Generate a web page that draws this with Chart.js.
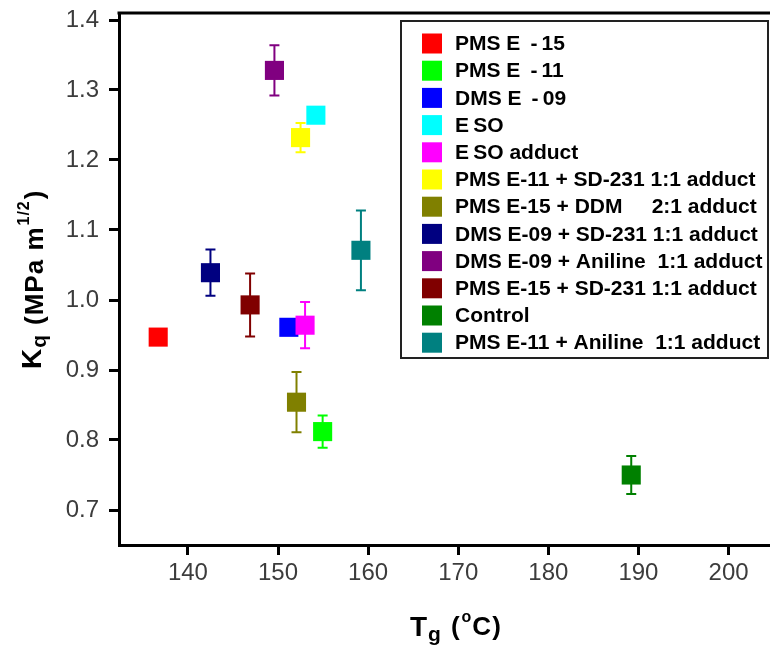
<!DOCTYPE html>
<html>
<head>
<meta charset="utf-8">
<script src="https://cdn.jsdelivr.net/npm/chart.js@4.4.1/dist/chart.umd.min.js"></script>
<style>
  body { margin: 0; background: #fff; }
  canvas { display: block; }
</style>
</head>
<body>
<canvas id="chart" width="770" height="650"></canvas>
<script>
// data
const seriesLabels = [
  'PMS E \u2009-\u200915',
  'PMS E \u2009-\u200911',
  'DMS E \u2009-\u200909',
  'E\u2009SO',
  'E\u2009SO adduct',
  'PMS E-11 + SD-231 1:1 adduct',
  'PMS E-15 + DDM     2:1 adduct',
  'DMS E-09 + SD-231 1:1 adduct',
  'DMS E-09 + Aniline  1:1 adduct',
  'PMS E-15 + SD-231 1:1 adduct',
  'Control',
  'PMS E-11 + Aniline  1:1 adduct'
];
const seriesColors = ['#ff0000','#00ff00','#0000ff','#00ffff','#ff00ff','#ffff00',
  '#808000','#000080','#800080','#800000','#008000','#008080'];
const tgValues = [136.7, 154.95, 151.2, 154.2, 153.0, 152.5, 152.05, 142.5, 149.6, 146.9, 189.2, 159.2];
const kqValues = [0.947, 0.812, 0.961, 1.264, 0.964, 1.232, 0.854, 1.039, 1.328, 0.993, 0.750, 1.071];
const kqErrors = [0, 0.023, 0, 0, 0.033, 0.021, 0.043, 0.033, 0.036, 0.045, 0.027, 0.057];
const xTicks = [140, 150, 160, 170, 180, 190, 200];
const yTicks = [0.7, 0.8, 0.9, 1.0, 1.1, 1.2, 1.3, 1.4];

const datasets = seriesLabels.map((lab, i) => ({
  label: lab,
  data: [{ x: tgValues[i], y: kqValues[i] }],
  err: kqErrors[i],
  backgroundColor: seriesColors[i],
  borderColor: seriesColors[i],
  borderWidth: 0,
  pointStyle: 'rect',
  pointRadius: 13.5,
  order: seriesLabels.length - i
}));

// error bars
const errorBars = {
  id: 'errorBars',
  afterDatasetsDraw(chart) {
    const ctx = chart.ctx, ys = chart.scales.y;
    chart.data.datasets.forEach((ds, i) => {
      if (!ds.err) return;
      const pt = chart.getDatasetMeta(i).data[0];
      const v = ds.data[0].y;
      const top = ys.getPixelForValue(v + ds.err), bot = ys.getPixelForValue(v - ds.err);
      ctx.save();
      ctx.strokeStyle = ds.borderColor;
      ctx.lineWidth = 2;
      ctx.beginPath();
      ctx.moveTo(pt.x, top); ctx.lineTo(pt.x, bot);
      ctx.moveTo(pt.x - 5, top); ctx.lineTo(pt.x + 5, top);
      ctx.moveTo(pt.x - 5, bot); ctx.lineTo(pt.x + 5, bot);
      ctx.stroke();
      ctx.restore();
    });
  }
};

const FONT = '"Liberation Sans", Arial, sans-serif';

// draws pieces of text one after another: [text, size, dy, gapAfter]
function drawParts(ctx, parts, x, y) {
  parts.forEach(p => {
    ctx.font = 'bold ' + p[1] + 'px ' + FONT;
    ctx.fillText(p[0], x, y + p[2]);
    x += ctx.measureText(p[0]).width + (p[3] || 0);
  });
}

// frame top, legend box and axis titles
const decorations = {
  id: 'decorations',
  afterDraw(chart) {
    const ctx = chart.ctx, a = chart.chartArea;
    ctx.save();
    ctx.strokeStyle = '#000';
    ctx.lineWidth = 3;
    ctx.beginPath();
    ctx.moveTo(a.left - 1.5, a.top); ctx.lineTo(a.right, a.top);
    ctx.stroke();

    // legend
    ctx.fillStyle = '#fff';
    ctx.fillRect(401, 21, 367, 337);
    ctx.strokeStyle = '#222';
    ctx.lineWidth = 2;
    ctx.strokeRect(401, 21, 367, 337);
    ctx.font = 'bold 21px ' + FONT;
    ctx.textBaseline = 'middle';
    chart.data.datasets.forEach((ds, i) => {
      const y = 43.5 + i * 27.2;
      ctx.fillStyle = ds.backgroundColor;
      ctx.fillRect(422, y - 10, 20, 20);
      ctx.fillStyle = '#000';
      ctx.fillText(ds.label, 455, y + 1);
    });

    ctx.textBaseline = 'alphabetic';
    ctx.fillStyle = '#000';
    ctx.letterSpacing = '1px';

    // y title: K_q (MPa m^1/2)
    ctx.translate(41, 369);
    ctx.rotate(-Math.PI / 2);
    drawParts(ctx, [['K', 28, 0], ['q', 21, 5, 9], ['(MPa m', 26, 2, 1], ['1/2', 16, -12, 1], [')', 26, 2]], 0, 0);
    ctx.setTransform(1, 0, 0, 1, 0, 0);

    // x title: T_g (°C)
    drawParts(ctx, [['T', 28, 0], ['g', 21, 5, 9], ['(', 26, -1, 1], ['o', 16, -14], ['C)', 26, -1]], 410, 636);
    ctx.restore();
  }
};

const tickFont = { family: FONT, size: 24 };
const noPadX = s => { s.height = 105; s.paddingLeft = 0; s.paddingRight = 0; };
const noPadY = s => { s.width = 119; s.paddingTop = 0; s.paddingBottom = 0; };

new Chart(document.getElementById('chart'), {
  type: 'scatter',
  data: { datasets },
  options: {
    responsive: false,
    animation: false,
    layout: { autoPadding: false, padding: { top: 13, right: 0, left: 0, bottom: 0 } },
    plugins: { legend: { display: false }, tooltip: { enabled: false } },
    scales: {
      x: {
        type: 'linear',
        min: 132.35,
        max: 204.6,
        afterBuildTicks: s => { s.ticks = xTicks.map(v => ({ value: v })); },
        afterFit: noPadX,
        ticks: { font: tickFont, color: '#3c3c3c', padding: 4, maxRotation: 0 },
        grid: { drawOnChartArea: false, tickLength: 10, tickWidth: 3, tickColor: '#000' },
        border: { color: '#000', width: 3 }
      },
      y: {
        min: 0.65,
        max: 1.41,
        afterBuildTicks: s => { s.ticks = yTicks.map(v => ({ value: v })); },
        afterFit: noPadY,
        ticks: { font: tickFont, color: '#3c3c3c', padding: 10, callback: v => v.toFixed(1) },
        grid: { drawOnChartArea: false, tickLength: 10, tickWidth: 3, tickColor: '#000' },
        border: { color: '#000', width: 3 }
      }
    }
  },
  plugins: [errorBars, decorations]
});
</script>
</body>
</html>
